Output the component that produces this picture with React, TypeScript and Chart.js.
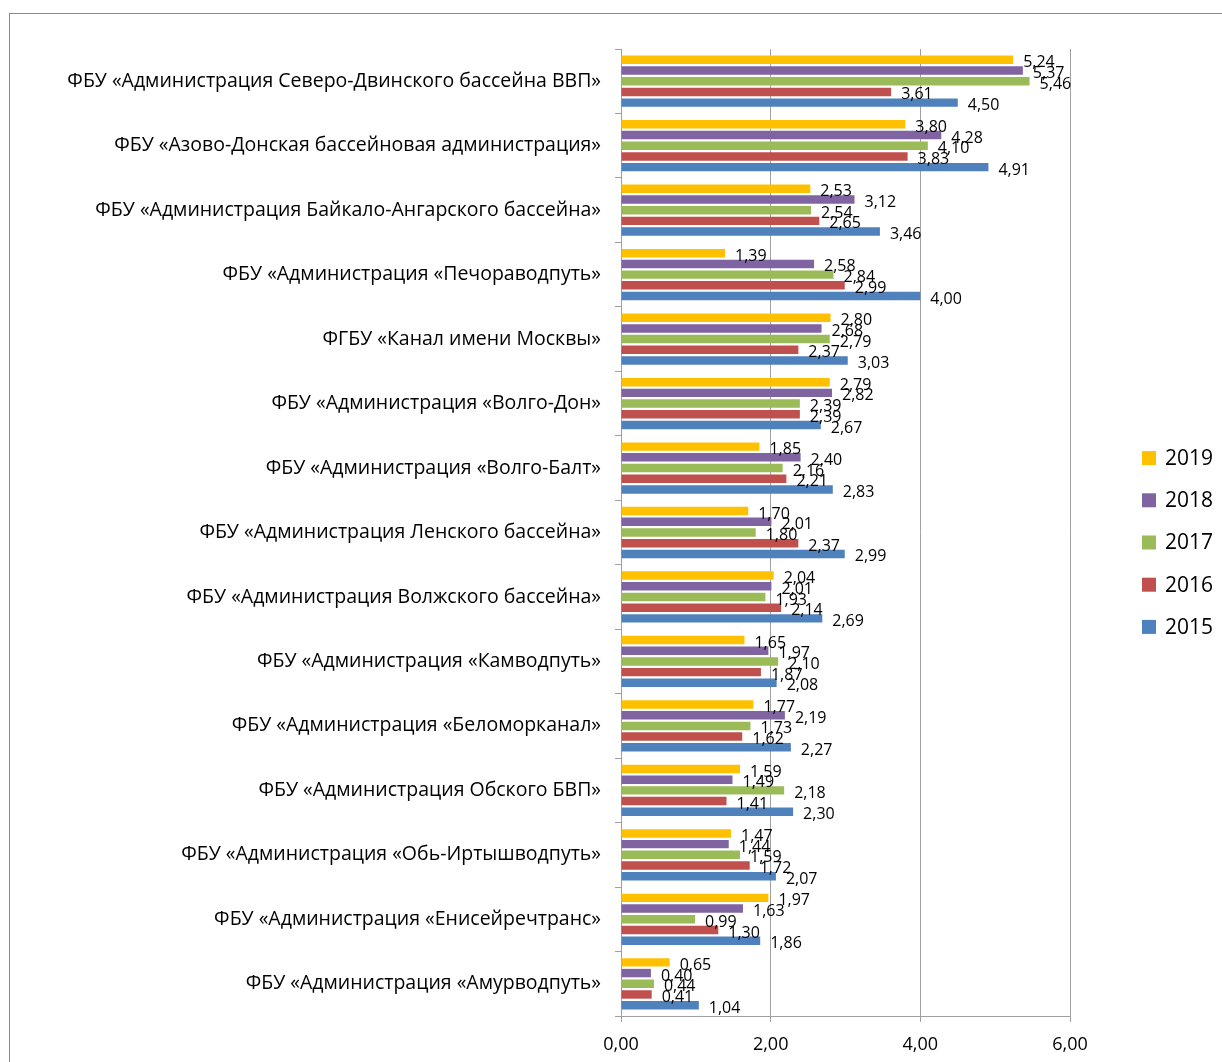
import React, { useEffect, useRef } from "react";
import { Chart, registerables } from "chart.js";

Chart.register(...registerables);

const categories = [
  "ФБУ «Администрация Северо-Двинского бассейна ВВП»",
  "ФБУ «Азово-Донская бассейновая администрация»",
  "ФБУ «Администрация Байкало-Ангарского бассейна»",
  "ФБУ «Администрация «Печораводпуть»",
  "ФГБУ «Канал имени Москвы»",
  "ФБУ «Администрация «Волго-Дон»",
  "ФБУ «Администрация «Волго-Балт»",
  "ФБУ «Администрация Ленского бассейна»",
  "ФБУ «Администрация Волжского бассейна»",
  "ФБУ «Администрация «Камводпуть»",
  "ФБУ «Администрация «Беломорканал»",
  "ФБУ «Администрация Обского БВП»",
  "ФБУ «Администрация «Обь-Иртышводпуть»",
  "ФБУ «Администрация «Енисейречтранс»",
  "ФБУ «Администрация «Амурводпуть»",
];

const values2019 = [5.24, 3.8, 2.53, 1.39, 2.8, 2.79, 1.85, 1.7, 2.04, 1.65, 1.77, 1.59, 1.47, 1.97, 0.65];
const values2018 = [5.37, 4.28, 3.12, 2.58, 2.68, 2.82, 2.4, 2.01, 2.01, 1.97, 2.19, 1.49, 1.44, 1.63, 0.4];
const values2017 = [5.46, 4.1, 2.54, 2.84, 2.79, 2.39, 2.16, 1.8, 1.93, 2.1, 1.73, 2.18, 1.59, 0.99, 0.44];
const values2016 = [3.61, 3.83, 2.65, 2.99, 2.37, 2.39, 2.21, 2.37, 2.14, 1.87, 1.62, 1.41, 1.72, 1.3, 0.41];
const values2015 = [4.5, 4.91, 3.46, 4.0, 3.03, 2.67, 2.83, 2.99, 2.69, 2.08, 2.27, 2.3, 2.07, 1.86, 1.04];

const seriesLabels = ["2019", "2018", "2017", "2016", "2015"];
const seriesColors = ["#FFC000", "#8064A2", "#9BBB59", "#C0504D", "#4F81BD"];
const seriesValues = [values2019, values2018, values2017, values2016, values2015];

const xMin = 0;
const xMax = 6;
const xStep = 2;

const FONT = "'Open Sans', 'DejaVu Sans', sans-serif";

const fmt = (v: number) => v.toFixed(2).replace(".", ",");

const dataLabelPlugin = {
  id: "dataLabels",
  afterDatasetsDraw(chart: any) {
    const ctx = chart.ctx;
    ctx.save();
    ctx.font = `16px ${FONT}`;
    ctx.fillStyle = "#000";
    ctx.textAlign = "left";
    ctx.textBaseline = "middle";
    chart.data.datasets.forEach((ds: any, i: number) => {
      const meta = chart.getDatasetMeta(i);
      meta.data.forEach((el: any, j: number) => {
        ctx.fillText(fmt(ds.data[j]), el.x + 10, el.y + 3);
      });
    });
    ctx.restore();
  },
};

const legendPlugin = {
  id: "customLegend",
  afterDraw(chart: any) {
    const ctx = chart.ctx;
    const area = chart.chartArea;
    const n = chart.data.datasets.length;
    const rowH = 42.2;
    const midY = (area.top + area.bottom) / 2 + 10;
    const boxX = area.right + 72;
    ctx.save();
    ctx.font = `21px ${FONT}`;
    ctx.textAlign = "left";
    ctx.textBaseline = "middle";
    chart.data.datasets.forEach((ds: any, i: number) => {
      const cy = midY + (i - (n - 1) / 2) * rowH;
      ctx.fillStyle = ds.backgroundColor;
      ctx.fillRect(boxX, cy - 7, 14, 14);
      ctx.fillStyle = "#000";
      ctx.fillText(ds.label, boxX + 23, cy + 1);
    });
    ctx.restore();
  },
};

export default function App() {
  const canvasRef = useRef<HTMLCanvasElement | null>(null);

  useEffect(() => {
    if (!canvasRef.current) return;
    const chart = new Chart(canvasRef.current, {
      type: "bar",
      data: {
        labels: categories,
        datasets: seriesLabels.map((label, i) => ({
          label,
          data: seriesValues[i],
          backgroundColor: seriesColors[i],
          borderWidth: 0,
          categoryPercentage: 0.83,
          barPercentage: 0.79,
        })),
      },
      options: {
        indexAxis: "y",
        animation: false,
        responsive: false,
        maintainAspectRatio: false,
        layout: { padding: { top: 49, right: 152, bottom: 0, left: 0 } },
        plugins: {
          legend: { display: false },
          tooltip: { enabled: false },
          title: { display: false },
        },
        scales: {
          x: {
            min: xMin,
            max: xMax,
            ticks: {
              stepSize: xStep,
              callback: (v: any) => fmt(Number(v)),
              color: "#000",
              font: { family: FONT, size: 18 },
              padding: 12,
            },
            grid: {
              color: "#a0a0a0",
              lineWidth: 1,
              drawTicks: true,
              tickLength: 6,
            },
            border: { color: "#a0a0a0", width: 1 },
            afterFit: (scale: any) => {
              scale.height = 46;
            },
          },
          y: {
            ticks: {
              color: "#000",
              font: { family: FONT, size: 19.5 },
              padding: 14,
              autoSkip: false,
            },
            grid: {
              drawOnChartArea: false,
              drawTicks: true,
              tickLength: 6,
              color: "#a0a0a0",
              offset: true,
            },
            border: { color: "#a0a0a0", width: 1 },
            afterFit: (scale: any) => {
              scale.width = 621;
            },
          },
        },
      },
      plugins: [dataLabelPlugin, legendPlugin],
    });
    return () => chart.destroy();
  }, []);

  return (
    <div
      style={{
        position: "absolute",
        left: 0,
        top: 0,
        width: 1222,
        height: 1062,
        overflow: "hidden",
        background: "#fff",
      }}
    >
      <div
        style={{
          position: "absolute",
          left: 9,
          top: 13,
          width: 1300,
          height: 1200,
          border: "1px solid #8a8a8a",
          boxSizing: "border-box",
        }}
      />
      <canvas
        ref={canvasRef}
        width={1222}
        height={1062}
        style={{ position: "absolute", left: 0, top: 0, width: 1222, height: 1062 }}
      />
    </div>
  );
}
